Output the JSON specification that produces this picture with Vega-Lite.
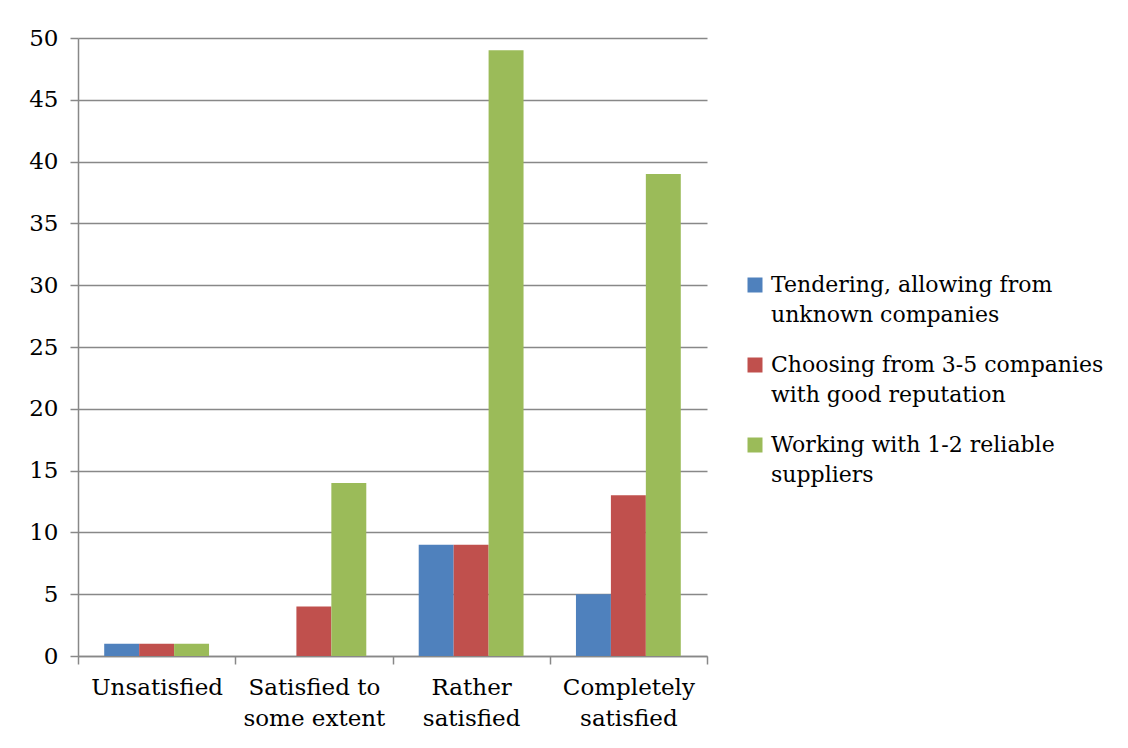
{
  "$schema": "https://vega.github.io/schema/vega-lite/v6.json",
  "width": 629,
  "height": 618,
  "autosize": "none",
  "padding": {"left": 78, "top": 38, "right": 421, "bottom": 92},
  "background": "white",
  "config": {
    "font": "DejaVu Serif",
    "view": {"stroke": null}
  },
  "data": {
    "values": [
      {"level": "Unsatisfied", "approach": "Tendering, allowing from unknown companies", "count": 1},
      {"level": "Unsatisfied", "approach": "Choosing from 3-5 companies with good reputation", "count": 1},
      {"level": "Unsatisfied", "approach": "Working with 1-2 reliable suppliers", "count": 1},
      {"level": "Satisfied to some extent", "approach": "Tendering, allowing from unknown companies", "count": 0},
      {"level": "Satisfied to some extent", "approach": "Choosing from 3-5 companies with good reputation", "count": 4},
      {"level": "Satisfied to some extent", "approach": "Working with 1-2 reliable suppliers", "count": 14},
      {"level": "Rather satisfied", "approach": "Tendering, allowing from unknown companies", "count": 9},
      {"level": "Rather satisfied", "approach": "Choosing from 3-5 companies with good reputation", "count": 9},
      {"level": "Rather satisfied", "approach": "Working with 1-2 reliable suppliers", "count": 49},
      {"level": "Completely satisfied", "approach": "Tendering, allowing from unknown companies", "count": 5},
      {"level": "Completely satisfied", "approach": "Choosing from 3-5 companies with good reputation", "count": 13},
      {"level": "Completely satisfied", "approach": "Working with 1-2 reliable suppliers", "count": 39}
    ]
  },
  "mark": {"type": "bar"},
  "encoding": {
    "x": {
      "field": "level",
      "type": "nominal",
      "sort": ["Unsatisfied", "Satisfied to some extent", "Rather satisfied", "Completely satisfied"],
      "scale": {"paddingInner": 0, "paddingOuter": 0},
      "axis": {
        "title": null,
        "labelAngle": 0,
        "labelFontSize": 23,
        "labelColor": "#000000",
        "labelPadding": 12,
        "labelLineHeight": 31,
        "labelExpr": "datum.value == 'Satisfied to some extent' ? ['Satisfied to', 'some extent'] : datum.value == 'Rather satisfied' ? ['Rather', 'satisfied'] : datum.value == 'Completely satisfied' ? ['Completely', 'satisfied'] : datum.value",
        "tickBand": "extent",
        "tickSize": 8,
        "tickColor": "#888888",
        "domainColor": "#888888",
        "domainWidth": 1.5,
        "tickWidth": 1.5
      }
    },
    "xOffset": {
      "field": "approach",
      "type": "nominal",
      "sort": ["Tendering, allowing from unknown companies", "Choosing from 3-5 companies with good reputation", "Working with 1-2 reliable suppliers"],
      "scale": {"paddingInner": 0, "paddingOuter": 0.75}
    },
    "y": {
      "field": "count",
      "type": "quantitative",
      "scale": {"domain": [0, 50], "nice": false},
      "axis": {
        "title": null,
        "values": [0, 5, 10, 15, 20, 25, 30, 35, 40, 45, 50],
        "labelFontSize": 23,
        "labelColor": "#000000",
        "labelPadding": 12,
        "tickSize": 8,
        "tickColor": "#888888",
        "tickWidth": 1.5,
        "domainColor": "#888888",
        "domainWidth": 1.5,
        "gridColor": "#888888",
        "gridWidth": 1.5
      }
    },
    "color": {
      "field": "approach",
      "type": "nominal",
      "sort": ["Tendering, allowing from unknown companies", "Choosing from 3-5 companies with good reputation", "Working with 1-2 reliable suppliers"],
      "scale": {"range": ["#4F81BD", "#C0504D", "#9BBB59"]},
      "legend": {
        "title": null,
        "orient": "none",
        "legendX": 666,
        "legendY": 236,
        "symbolType": "square",
        "symbolSize": 225,
        "symbolStrokeWidth": 0,
        "labelFontSize": 22,
        "labelColor": "#000000",
        "labelLimit": 420,
        "labelOffset": 5,
        "rowPadding": 28,
        "labelExpr": "datum.value == 'Tendering, allowing from unknown companies' ? ['Tendering, allowing from', 'unknown companies'] : datum.value == 'Choosing from 3-5 companies with good reputation' ? ['Choosing from 3-5 companies', 'with good reputation'] : ['Working with 1-2 reliable', 'suppliers']",
        "encode": {"labels": {"update": {"lineHeight": {"value": 30}}}}
      }
    }
  }
}
